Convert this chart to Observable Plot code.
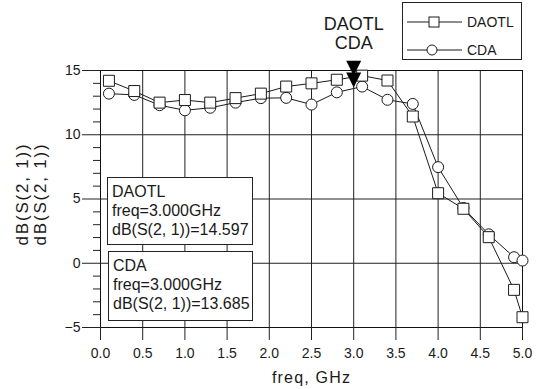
<!DOCTYPE html>
<html>
<head>
<meta charset="utf-8">
<script src="https://cdn.jsdelivr.net/npm/d3@7"></script>
<script src="https://cdn.jsdelivr.net/npm/@observablehq/plot@0.6"></script>
<style>
  html, body { margin: 0; padding: 0; background: #fff; }
  #wrap { position: relative; width: 541px; height: 389px; font-family: "Liberation Sans", Arial, sans-serif; color: #1a1a1a; }
  #wrap > svg { position: absolute; left: 0; top: 0; }
  .ann { position: absolute; box-sizing: border-box; border: 1px solid #222; background: #fff;
         font-size: 16px; line-height: 19px; padding: 4px 4px; white-space: pre; }
  #legend { position: absolute; left: 402px; top: 2px; box-sizing: border-box; width: 120px; height: 58px;
            border: 1px solid #222; background: #fff; }
</style>
</head>
<body>
<div id="wrap"></div>
<script>
// ---- data ----
const freq  = [0.1, 0.4, 0.7, 1.0, 1.3, 1.6, 1.9, 2.2, 2.5, 2.8, 3.1, 3.4, 3.7, 4.0, 4.3, 4.6, 4.9, 5.0];
const daotl = [14.2, 13.4, 12.5, 12.7, 12.5, 12.85, 13.2, 13.75, 14.0, 14.28, 14.6, 14.22, 11.42, 5.45, 4.24, 2.03, -2.07, -4.2];
const cda   = [13.2, 13.1, 12.3, 11.9, 12.1, 12.5, 12.85, 12.87, 12.35, 13.3, 13.75, 12.72, 12.4, 7.48, 4.3, 2.25, 0.47, 0.21];
const seriesNames = ["DAOTL", "CDA"];
const markerFreq = 3.0;
const markerValues = [14.597, 13.685];
const xTicks = [0, 0.5, 1, 1.5, 2, 2.5, 3, 3.5, 4, 4.5, 5];
const yTicks = [-5, 0, 5, 10, 15];
const yMinor = d3.range(-5, 16).filter(v => v % 5 !== 0);
const xLabel = "freq, GHz";
const yLabel = "dB(S(2, 1))";

const rowsD = freq.map((f, i) => ({f, v: daotl[i]}));
const rowsC = freq.map((f, i) => ({f, v: cda[i]}));
const markerRows = markerValues.map((v, i) => ({f: markerFreq, v, s: seriesNames[i]}));

const ink = "#1a1a1a";
const downTriangle = {
  draw(ctx) { ctx.moveTo(0, 0); ctx.lineTo(-7.5, -15); ctx.lineTo(7.5, -15); ctx.closePath(); }
};
const mid = {textAnchor: "middle", lineAnchor: "middle"};

const svg = Plot.plot({
  width: 541, height: 389,
  marginLeft: 100, marginRight: 19, marginTop: 70, marginBottom: 62,
  x: {domain: [0, 5]},
  y: {domain: [-5, 15]},
  style: {fontFamily: "'Liberation Sans', Arial, sans-serif", background: "white", color: ink, overflow: "visible"},
  marks: [
    Plot.ruleX(xTicks, {stroke: "#222", strokeWidth: 1}),
    Plot.ruleY(yTicks, {stroke: "#222", strokeWidth: 1}),
    Plot.frame({stroke: "#111"}),
    Plot.axisX(xTicks, {tickSize: 13, tickPadding: 8, tickFormat: d => d.toFixed(1), fontSize: 14, label: null, stroke: "#222"}),
    Plot.axisY(yTicks, {tickSize: 18, tickPadding: 2, fontSize: 14, label: null, stroke: "#222"}),
    Plot.axisY(yMinor, {tickSize: 7, tickFormat: () => "", label: null, stroke: "#222"}),
    Plot.text([xLabel], {...mid, frameAnchor: "bottom", dy: 50, fontSize: 16, text: d => d}),
    Plot.text([yLabel + "\n" + yLabel], {...mid, frameAnchor: "left", rotate: -90, dx: -69, dy: -5, fontSize: 17, lineHeight: 1.06, text: d => d}),
    Plot.line(rowsC, {x: "f", y: "v", stroke: ink, strokeWidth: 1}),
    Plot.line(rowsD, {x: "f", y: "v", stroke: ink, strokeWidth: 1}),
    Plot.dot(rowsC, {x: "f", y: "v", symbol: "circle", r: 5.5, fill: "white", stroke: ink, strokeWidth: 1}),
    Plot.dot(rowsD, {x: "f", y: "v", symbol: "square", r: 6.2, fill: "white", stroke: ink, strokeWidth: 1}),
    Plot.dot(markerRows, {x: "f", y: "v", symbol: downTriangle, r: 8, fill: "#000", stroke: "none"}),
    Plot.text([markerFreq], {...mid, x: d => d, frameAnchor: "top", dy: -46, text: () => seriesNames[0], fontSize: 18}),
    Plot.text([markerFreq], {...mid, x: d => d, frameAnchor: "top", dy: -27, text: () => seriesNames[1], fontSize: 18})
  ]
});

// letter spacing for axis titles (wider print font in the reference)
svg.querySelectorAll("text").forEach(t => {
  if (t.textContent.startsWith("dB(S")) t.setAttribute("letter-spacing", "1.8");
  if (t.textContent === xLabel) t.setAttribute("letter-spacing", "1.2");
});

const wrap = document.getElementById("wrap");
wrap.appendChild(svg);

// marker readout boxes
const boxes = [
  {left: 107, top: 177, width: 146, height: 68},
  {left: 108, top: 251, width: 145, height: 70}
];
seriesNames.forEach((name, i) => {
  const div = document.createElement("div");
  div.className = "ann";
  Object.assign(div.style, {left: boxes[i].left + "px", top: boxes[i].top + "px",
    width: boxes[i].width + "px", height: boxes[i].height + "px"});
  div.textContent = `${name}\nfreq=${markerFreq.toFixed(3)}GHz\n${yLabel}=${markerValues[i].toFixed(3)}`;
  wrap.appendChild(div);
});

// legend
const leg = document.createElement("div");
leg.id = "legend";
const ns = "http://www.w3.org/2000/svg";
const ls = document.createElementNS(ns, "svg");
ls.setAttribute("width", 118); ls.setAttribute("height", 56);
ls.style.display = "block";
const rowsY = [19, 47];
seriesNames.forEach((name, i) => {
  const y = rowsY[i];
  const ln = document.createElementNS(ns, "line");
  ln.setAttribute("x1", 4); ln.setAttribute("x2", 59); ln.setAttribute("y1", y); ln.setAttribute("y2", y);
  ln.setAttribute("stroke", ink);
  ls.appendChild(ln);
  let m;
  if (i === 0) {
    m = document.createElementNS(ns, "rect");
    m.setAttribute("x", 31 - 5); m.setAttribute("y", y - 5); m.setAttribute("width", 10); m.setAttribute("height", 10);
  } else {
    m = document.createElementNS(ns, "circle");
    m.setAttribute("cx", 29); m.setAttribute("cy", y); m.setAttribute("r", 5);
  }
  m.setAttribute("fill", "white"); m.setAttribute("stroke", ink);
  ls.appendChild(m);
  const tx = document.createElementNS(ns, "text");
  tx.setAttribute("x", 64); tx.setAttribute("y", y + 5);
  tx.setAttribute("font-size", 14);
  tx.setAttribute("font-family", "'Liberation Sans', Arial, sans-serif");
  tx.setAttribute("fill", ink);
  tx.textContent = name;
  ls.appendChild(tx);
});
leg.appendChild(ls);
wrap.appendChild(leg);
</script>
</body>
</html>
